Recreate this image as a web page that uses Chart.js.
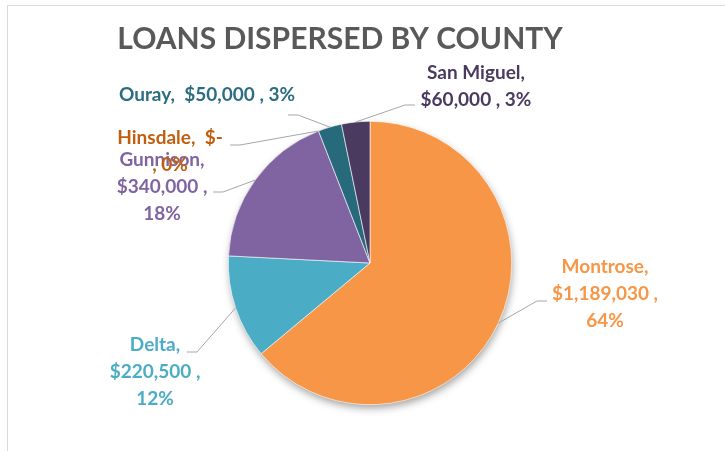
<!DOCTYPE html>
<html lang="en">
<head>
  <meta charset="UTF-8" />
  <title>Loans Dispersed by County</title>
  <script src="https://cdn.jsdelivr.net/npm/chart.js"></script>
  <style>
    html, body { margin: 0; padding: 0; background: #fff; }
    #wrap { position: relative; width: 725px; height: 451px; }
    #frame {
      position: absolute; left: 7px; top: 5px; right: 0; bottom: 0;
      border-top: 1.5px solid #d9d9d9; border-left: 1.5px solid #d9d9d9;
      pointer-events: none;
    }
    canvas { position: absolute; left: 0; top: 0; }
  </style>
</head>
<body>
  <div id="wrap">
    <canvas id="loans" width="725" height="451"></canvas>
    <div id="frame"></div>
  </div>

  <script>
    const counties = ['Montrose', 'Delta', 'Gunnison', 'Hinsdale', 'Ouray', 'San Miguel'];
    const amounts = [1189030, 220500, 340000, 0, 50000, 60000];
    const sliceColors = ['#f79646', '#4bacc6', '#8064a2', '#c55a11', '#276a7c', '#4a3a5f'];
    const textColors = ['#f79646', '#4bacc6', '#8064a2', '#c0600f', '#2b6e80', '#4a3a60'];

    // where each data label sits: line grouping of its pieces, centre x, first line y, leader elbow + end
    const labelLayout = [
      { groups: [[0], [1, 2], [3]], x: 605, y: 267, elbow: [537, 301], end: [547, 301] },
      { groups: [[0], [1, 2], [3]], x: 155, y: 345, elbow: [197, 352], end: [187, 352] },
      { groups: [[0], [1, 2], [3]], x: 162, y: 160, elbow: [223, 192], end: [213, 192] },
      { groups: [[0, 1], [2, 3]], x: 170, y: 138, elbow: [240, 145], end: [230, 145] },
      { groups: [[0, 1, 2, 3]], x: 207, y: 95, elbow: [298, 115], end: [288, 115] },
      { groups: [[0], [1, 2, 3]], x: 476, y: 73, elbow: [405, 105], end: [415, 105] }
    ];
    const lineGap = 27;
    const labelFont = 'bold 19px Lato, "Open Sans", sans-serif';

    const total = amounts.reduce((a, b) => a + b, 0);
    const money = v => v === 0 ? '$-' : '$' + v.toLocaleString('en-US');

    function labelLines(i) {
      const pct = Math.round(amounts[i] / total * 100) + '%';
      const pieces = [counties[i] + ',', money(amounts[i]), ',', pct];
      return labelLayout[i].groups.map(g => g.map(k => pieces[k]).join(' ').replace(', $', ',  $'));
    }

    const pieShadow = {
      id: 'pieShadow',
      beforeDatasetsDraw(chart) {
        const arc = chart.getDatasetMeta(0).data[0];
        const ctx = chart.ctx;
        ctx.save();
        ctx.shadowColor = 'rgba(0,0,0,0.4)';
        ctx.shadowBlur = 8;
        ctx.shadowOffsetX = 1;
        ctx.shadowOffsetY = 4;
        ctx.fillStyle = '#ffffff';
        ctx.beginPath();
        ctx.arc(arc.x, arc.y, arc.outerRadius - 1, 0, Math.PI * 2);
        ctx.fill();
        ctx.restore();
      }
    };

    const titleAndLabels = {
      id: 'titleAndLabels',
      afterDatasetsDraw(chart) {
        const ctx = chart.ctx;
        ctx.save();
        ctx.fillStyle = '#595959';
        ctx.font = 'bold 30px Lato, "Open Sans", sans-serif';
        ctx.textAlign = 'center';
        ctx.textBaseline = 'middle';
        ctx.fillText('LOANS DISPERSED BY COUNTY', 340, 39);

        const meta = chart.getDatasetMeta(0);
        meta.data.forEach((arc, i) => {
          const lay = labelLayout[i];
          const mid = (arc.startAngle + arc.endAngle) / 2;
          const sx = arc.x + Math.cos(mid) * arc.outerRadius;
          const sy = arc.y + Math.sin(mid) * arc.outerRadius;
          ctx.strokeStyle = '#a6a6a6';
          ctx.lineWidth = 1;
          ctx.beginPath();
          ctx.moveTo(sx, sy);
          ctx.lineTo(lay.elbow[0], lay.elbow[1]);
          ctx.lineTo(lay.end[0], lay.end[1]);
          ctx.stroke();

          ctx.fillStyle = textColors[i];
          ctx.font = labelFont;
          labelLines(i).forEach((t, k) => ctx.fillText(t, lay.x, lay.y + k * lineGap));
        });
        ctx.restore();
      }
    };

    new Chart(document.getElementById('loans'), {
      type: 'pie',
      data: {
        labels: counties,
        datasets: [{
          data: amounts,
          backgroundColor: sliceColors,
          borderColor: '#ffffff',
          borderWidth: 0.6
        }]
      },
      options: {
        responsive: false,
        animation: false,
        layout: { padding: { top: 121, bottom: 46, left: 100, right: 85 } },
        plugins: {
          legend: { display: false },
          title: { display: false },
          tooltip: { enabled: false }
        }
      },
      plugins: [pieShadow, titleAndLabels]
    });
  </script>
</body>
</html>
